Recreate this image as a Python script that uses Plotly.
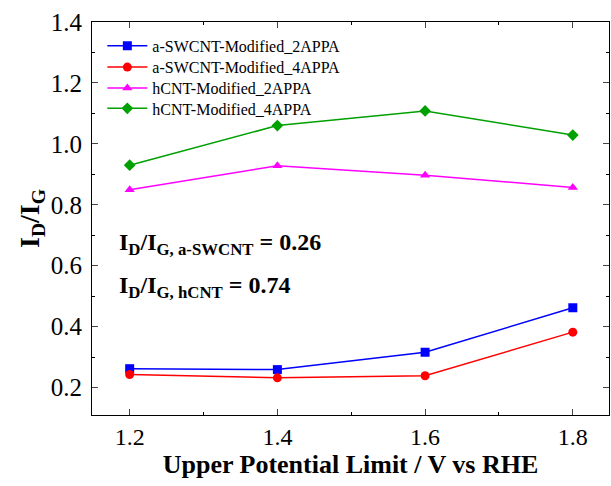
import plotly.graph_objects as go

x = [1.2, 1.4, 1.6, 1.8]
names = ["a-SWCNT-Modified_2APPA", "a-SWCNT-Modified_4APPA", "hCNT-Modified_2APPA", "hCNT-Modified_4APPA"]
a2 = [0.262, 0.259, 0.316, 0.462]
a4 = [0.243, 0.232, 0.239, 0.382]
h2 = [0.849, 0.928, 0.897, 0.857]
h4 = [0.930, 1.060, 1.108, 1.029]
colors = ["#0000ff", "#ff0000", "#ff00ff", "#00a000"]
symbols = ["square", "circle", "triangle-up", "diamond"]
legend_ids = ["legend", "legend2", "legend3", "legend4"]
legend_y = [0.939, 0.885, 0.832, 0.780]

font = "Liberation Serif"
fig = go.Figure()
for n, y, c, s, lg in zip(names, [a2, a4, h2, h4], colors, symbols, legend_ids):
    fig.add_trace(go.Scatter(x=x, y=y, name=n, mode="lines+markers", legend=lg,
                             line=dict(color=c, width=1.5),
                             marker=dict(symbol=s, size=9, color=c)))

legend_layout = {}
for lg, ly in zip(legend_ids, legend_y):
    legend_layout[lg] = dict(x=0.02, y=ly, xanchor="left", yanchor="middle",
                             bgcolor="rgba(0,0,0,0)", font=dict(size=16, family=font),
                             itemwidth=40)

fig.update_layout(
    width=611, height=486,
    margin=dict(l=92, r=2, t=22, b=71),
    plot_bgcolor="white", paper_bgcolor="white",
    font=dict(family=font, color="black", size=14),
    showlegend=True,
    xaxis=dict(range=[1.149, 1.849], tickvals=[1.2, 1.4, 1.6, 1.8], ticktext=["1.2", "1.4", "1.6", "1.8"],
               ticks="inside", ticklen=6, tickwidth=1, mirror="ticks", showline=True, linecolor="black",
               linewidth=1, showgrid=False, zeroline=False, tickfont=dict(size=24, family=font),
               minor=dict(tickvals=[1.3, 1.5, 1.7], ticks="inside", ticklen=3, tickcolor="black"),
               title=dict(text="<b>Upper Potential Limit / V vs RHE</b>", font=dict(size=26, family=font), standoff=4)),
    yaxis=dict(range=[0.11, 1.4], tickvals=[0.2, 0.4, 0.6, 0.8, 1.0, 1.2, 1.4],
               ticktext=["0.2", "0.4", "0.6", "0.8", "1.0", "1.2", "1.4"],
               ticks="inside", ticklen=6, tickwidth=1, mirror="ticks", showline=True, linecolor="black",
               linewidth=1, showgrid=False, zeroline=False, tickfont=dict(size=25, family=font),
               ticklabelstandoff=4,
               minor=dict(tickvals=[0.3, 0.5, 0.7, 0.9, 1.1, 1.3], ticks="inside", ticklen=3, tickcolor="black"),
               title=dict(text="<b>I<sub>D</sub>/I<sub>G</sub></b>", font=dict(size=28, family=font), standoff=2)),
    **legend_layout,
)
fig.add_annotation(x=1.183, y=0.67, xref="x", yref="y", xanchor="left", showarrow=False,
                   text="<b>I<sub>D</sub>/I<sub>G, a-SWCNT</sub> = 0.26</b>", font=dict(size=24, family=font))
fig.add_annotation(x=1.183, y=0.53, xref="x", yref="y", xanchor="left", showarrow=False,
                   text="<b>I<sub>D</sub>/I<sub>G, hCNT</sub> = 0.74</b>", font=dict(size=24, family=font))
fig.write_html("out.html")
